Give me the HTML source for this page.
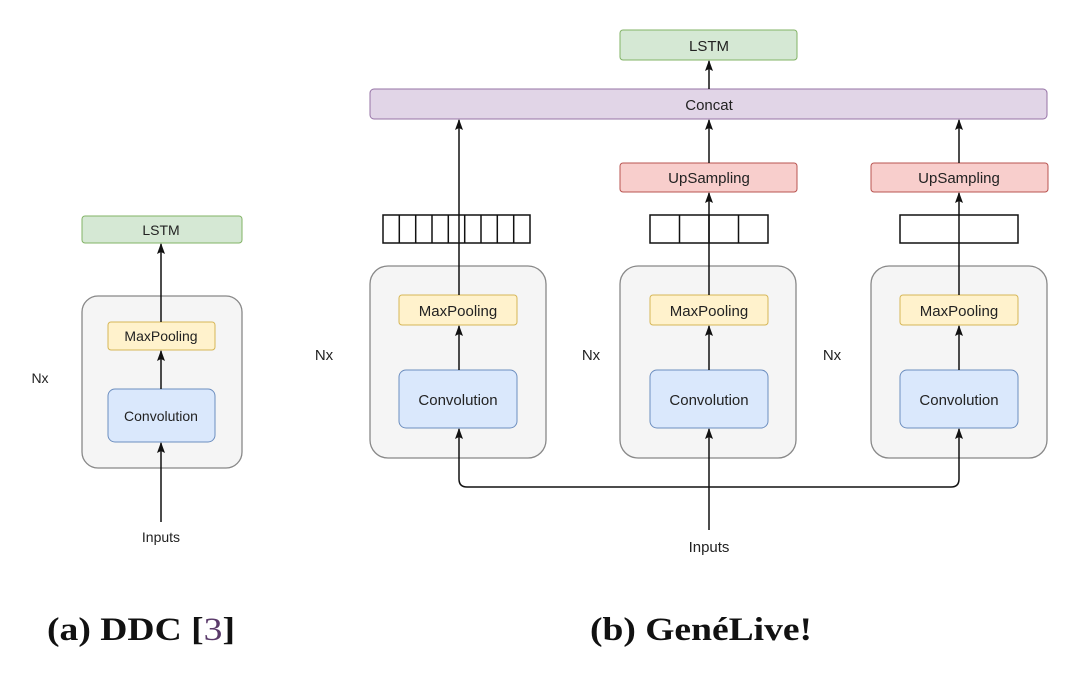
<!DOCTYPE html>
<html><head><style>
body{margin:0;background:#fff;}
</style></head><body>
<svg width="1080" height="685" xmlns="http://www.w3.org/2000/svg" font-family="Liberation Sans, sans-serif">
<defs><marker id="a" markerWidth="12" markerHeight="10" refX="10" refY="5" orient="auto" markerUnits="userSpaceOnUse"><path d="M0,1 L11,5 L0,9 L2,5 Z" fill="#111"/></marker></defs>
<rect width="1080" height="685" fill="#fff"/>
<rect x="82" y="296" width="160" height="172" rx="16" fill="#f5f5f5" stroke="#888" stroke-width="1.3"/>
<rect x="82" y="216" width="160" height="27" rx="3" fill="#d5e8d4" stroke="#82b366"/>
<rect x="108" y="322" width="107" height="28" rx="3" fill="#fff2cc" stroke="#d6b656"/>
<rect x="108" y="389" width="107" height="53" rx="7" fill="#dae8fc" stroke="#6c8ebf"/>
<g stroke="#111" stroke-width="1.5" marker-end="url(#a)">
<line x1="161" y1="322" x2="161" y2="244"/>
<line x1="161" y1="389" x2="161" y2="351"/>
<line x1="161" y1="522" x2="161" y2="443"/>
</g>
<g font-size="14" fill="#222" text-anchor="middle">
<text x="161" y="235">LSTM</text>
<text x="161" y="341">MaxPooling</text>
<text x="161" y="421">Convolution</text>
<text x="161" y="542">Inputs</text>
<text x="40" y="383">Nx</text>
</g>
<rect x="620" y="30" width="177" height="30" rx="3" fill="#d5e8d4" stroke="#82b366"/>
<rect x="370" y="89" width="677" height="30" rx="4" fill="#e1d5e7" stroke="#9673a6"/>
<g font-size="15" fill="#222" text-anchor="middle">
<text x="709" y="51">LSTM</text>
<text x="709" y="110">Concat</text>
</g>
<rect x="370" y="266" width="176" height="192" rx="18" fill="#f5f5f5" stroke="#888" stroke-width="1.3"/>
<rect x="620" y="266" width="176" height="192" rx="18" fill="#f5f5f5" stroke="#888" stroke-width="1.3"/>
<rect x="871" y="266" width="176" height="192" rx="18" fill="#f5f5f5" stroke="#888" stroke-width="1.3"/>
<rect x="399" y="295" width="118" height="30" rx="3" fill="#fff2cc" stroke="#d6b656"/>
<rect x="650" y="295" width="118" height="30" rx="3" fill="#fff2cc" stroke="#d6b656"/>
<rect x="900" y="295" width="118" height="30" rx="3" fill="#fff2cc" stroke="#d6b656"/>
<rect x="399" y="370" width="118" height="58" rx="7" fill="#dae8fc" stroke="#6c8ebf"/>
<rect x="650" y="370" width="118" height="58" rx="7" fill="#dae8fc" stroke="#6c8ebf"/>
<rect x="900" y="370" width="118" height="58" rx="7" fill="#dae8fc" stroke="#6c8ebf"/>
<rect x="620" y="163" width="177" height="29" rx="3" fill="#f8cecc" stroke="#b85450"/>
<rect x="871" y="163" width="177" height="29" rx="3" fill="#f8cecc" stroke="#b85450"/>
<g stroke="#111" stroke-width="1.5" fill="#fff">
<rect x="383" y="215" width="147" height="28"/>
<path d="M399.3,215v28M415.7,215v28M432,215v28M448.3,215v28M464.7,215v28M481,215v28M497.3,215v28M513.7,215v28" fill="none"/>
<rect x="650" y="215" width="118" height="28"/>
<path d="M679.5,215v28M709,215v28M738.5,215v28" fill="none"/>
<rect x="900" y="215" width="118" height="28"/>
</g>
<g stroke="#111" stroke-width="1.5" fill="none" marker-end="url(#a)">
<line x1="709" y1="89" x2="709" y2="61"/>
<line x1="459" y1="295" x2="459" y2="120"/>
<line x1="709" y1="163" x2="709" y2="120"/>
<line x1="959" y1="163" x2="959" y2="120"/>
<line x1="709" y1="295" x2="709" y2="193"/>
<line x1="959" y1="295" x2="959" y2="193"/>
<line x1="459" y1="370" x2="459" y2="326"/>
<line x1="709" y1="370" x2="709" y2="326"/>
<line x1="959" y1="370" x2="959" y2="326"/>
<line x1="709" y1="530" x2="709" y2="429"/>
<path d="M709,487 H467 Q459,487 459,479 V429"/>
<path d="M709,487 H951 Q959,487 959,479 V429"/>
</g>
<g font-size="15" fill="#222" text-anchor="middle">
<text x="458" y="316">MaxPooling</text>
<text x="709" y="316">MaxPooling</text>
<text x="959" y="316">MaxPooling</text>
<text x="458" y="405">Convolution</text>
<text x="709" y="405">Convolution</text>
<text x="959" y="405">Convolution</text>
<text x="709" y="183">UpSampling</text>
<text x="959" y="183">UpSampling</text>
<text x="709" y="552">Inputs</text>
<text x="324" y="360">Nx</text>
<text x="591" y="360">Nx</text>
<text x="832" y="360">Nx</text>
</g>
<g font-family="Liberation Serif, serif" font-weight="bold" font-size="33" fill="#111">
<text x="47" y="640" textLength="188" lengthAdjust="spacingAndGlyphs">(a) DDC [<tspan fill="#5a3a6a" font-weight="normal">3</tspan>]</text>
<text x="590" y="640" textLength="222" lengthAdjust="spacingAndGlyphs">(b) GenéLive!</text>
</g>
</svg>
</body></html>
